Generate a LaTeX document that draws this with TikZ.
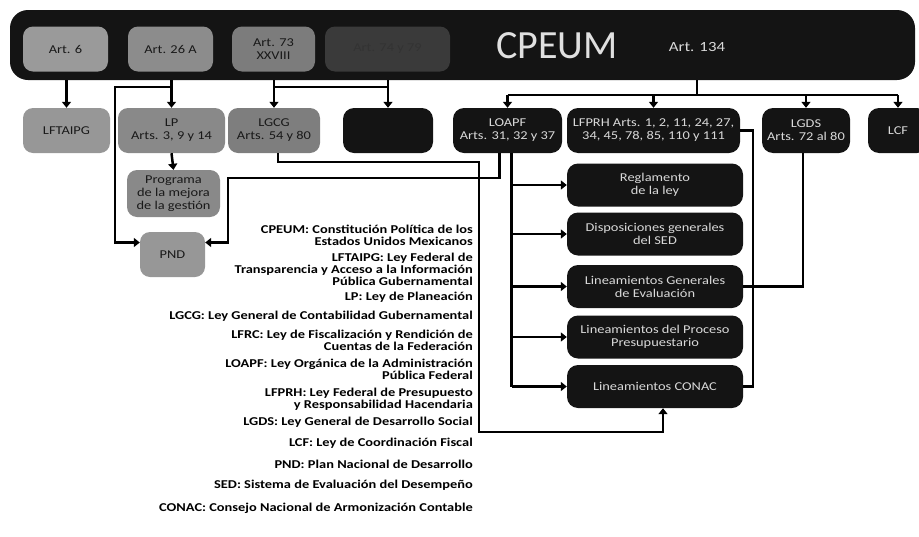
\documentclass[tikz,border=0pt]{standalone}
\usepackage{fontspec}
\setmainfont{Carlito}[FakeStretch=1.2]
\newfontfamily\titlefont{Carlito}
\usepackage{tikz}
\usetikzlibrary{arrows.meta,positioning}

\definecolor{barblack}{HTML}{141414}
\definecolor{artA}{HTML}{9A9A9A}
\definecolor{artB}{HTML}{8C8C8C}
\definecolor{artC}{HTML}{7C7C7C}
\definecolor{artD}{HTML}{3A3A3A}
\definecolor{rowA}{HTML}{979797}
\definecolor{rowB}{HTML}{898989}
\definecolor{rowC}{HTML}{7E7E7E}
\definecolor{darktext}{HTML}{D9D9D9}

\begin{document}
\begin{tikzpicture}[x=1pt,y=-1pt,
    conn/.style={line width=2.5pt, black},
    arr/.style={conn, -{Triangle[length=6pt,width=9pt]}},
    graybox/.style={rounded corners=10pt, fill=#1, minimum height=45pt, align=center,
        font=\fontsize{12}{13}\selectfont, text=black!90, inner sep=1pt},
    graybox/.default=rowB,
    darkbox/.style={rounded corners=11pt, fill=barblack, minimum height=45pt, align=center,
        font=\fontsize{12}{13}\selectfont, text=darktext, inner sep=1pt},
    legend/.style={anchor=east, align=right, font=\fontsize{12}{12}\selectfont\bfseries, inner sep=0pt}]
    \useasboundingbox (0,0) rectangle (919,536);
    % top bar
    \node[rounded corners=18pt, fill=barblack, minimum width=905pt, minimum height=70pt] (bar) at (462.5,45) {};
    \node[graybox=artA, minimum width=85pt] (art6) at (65.5,49) {Art. 6};
    \node[graybox=artB, minimum width=85pt] (art26) at (170.5,49) {Art. 26 A};
    \node[graybox=artC, minimum width=83pt] (art73) at (273.5,49) {Art. 73\\XXVIII};
    \node[graybox=artD, minimum width=125pt, text=black!80] (art74) at (387.5,49) {Art. 74 y 79};
    \node[text=white!88!black, font=\titlefont\fontsize{40}{40}\selectfont, inner sep=0pt] (cpeum) at (557,46) {CPEUM};
    \node[text=darktext, font=\fontsize{14}{14}\selectfont, inner sep=0pt] (art134) at (697,47) {Art. 134};
    % second row
    \node[graybox=rowA, minimum width=87pt] (lftaipg) at (66.5,130.5) {LFTAIPG};
    \node[graybox=rowB, minimum width=107pt] (lp) at (171.5,130.5) {LP\\Arts. 3, 9 y 14};
    \node[graybox=rowC, minimum width=92pt] (lgcg) at (274,130.5) {LGCG\\Arts. 54 y 80};
    \node[darkbox, minimum width=90pt] (lfrc) at (388,130.5) {};
    \node[darkbox, minimum width=109pt] (loapf) at (507.5,130.5) {LOAPF\\Arts. 31, 32 y 37};
    \node[darkbox, minimum width=173pt] (lfprh) at (653.5,130.5) {LFPRH Arts. 1, 2, 11, 24, 27,\\34, 45, 78, 85, 110 y 111};
    \node[darkbox, minimum width=88pt] (lgds) at (806,130.5) {LGDS\\Arts. 72 al 80};
    \node[darkbox, minimum width=60pt] (lcf) at (898,130.5) {LCF};
    \node[graybox=rowB, minimum width=93pt, minimum height=47pt] (prog) at (173.5,193.5) {Programa\\de la mejora\\de la gestión};
    \node[graybox=rowA, minimum width=65pt] (pnd) at (172.5,254.5) {PND};
    % right column
    \node[darkbox, minimum width=176pt, minimum height=43pt] (regl) at (655,185) {Reglamento\\de la ley};
    \node[darkbox, minimum width=176pt, minimum height=43pt] (disp) at (655,234) {Disposiciones generales\\del SED};
    \node[darkbox, minimum width=176pt, minimum height=43pt] (leval) at (655,286.5) {Lineamientos Generales\\de Evaluación};
    \node[darkbox, minimum width=176pt, minimum height=43pt] (lpres) at (655,337) {Lineamientos del Proceso\\Presupuestario};
    \node[darkbox, minimum width=176pt, minimum height=43pt] (lconac) at (655,386.5) {Lineamientos CONAC};
    % legend
    \foreach \y/\t in {235/{CPEUM: Constitución Política de los\\Estados Unidos Mexicanos},
        269/{LFTAIPG: Ley Federal de\\Transparencia y Acceso a la Información\\Pública Gubernamental},
        297/{LP: Ley de Planeación},
        316/{LGCG: Ley General de Contabilidad Gubernamental},
        340/{LFRC: Ley de Fiscalización y Rendición de\\Cuentas de la Federación},
        369.5/{LOAPF: Ley Orgánica de la Administración\\Pública Federal},
        399/{LFPRH: Ley Federal de Presupuesto\\y Responsabilidad Hacendaria},
        422/{LGDS: Ley General de Desarrollo Social},
        443/{LCF: Ley de Coordinación Fiscal},
        464/{PND: Plan Nacional de Desarrollo},
        485/{SED: Sistema de Evaluación del Desempeño},
        508/{CONAC: Consejo Nacional de Armonización Contable}} {
        \node[legend] (leg-\y) at (473,\y) {\t};
    }
    % connectors
    \coordinate (j26) at (115,87);
    \coordinate (j73) at (0,87);
    \coordinate (j134) at (697,95);
    \coordinate (ret) at (479,162);
    \coordinate (low) at (479,432);
    \coordinate (turn) at (228,178);
    \coordinate (rside) at (753,0);
    \coordinate (spine) at ([xshift=4pt]loapf.south);
    \draw[arr] (lftaipg.north |- bar.south) -- (lftaipg.north);
    \draw[arr] (lp.north |- bar.south) -- (lp.north);
    \draw[arr] (lp.north |- j26) -- (j26) |- ([yshift=12pt]pnd.west);
    \draw[arr] (lp.south) -- (prog.north);
    \draw[arr] (lgcg.north |- bar.south) -- (lgcg.north);
    \draw[arr] (lfrc.north |- bar.south) -- (lfrc.north);
    \draw[conn] (lgcg.north |- j73) -- (lfrc.north |- j73);
    \draw[conn] (j134 |- bar.south) -- (j134);
    \draw[conn] (loapf.north |- j134) -- (lcf.north |- j134);
    \foreach \n in {loapf,lfprh,lgds,lcf} { \draw[arr] (\n.north |- j134) -- (\n.north); }
    \draw[arr] ([xshift=4pt]lgcg.south) |- (ret) -- (low) -| ([xshift=8pt]lconac.south);
    \draw[arr] ([xshift=-8pt]loapf.south) |- (turn) |- ([yshift=12pt]pnd.east);
    \draw[conn] (spine) -- (spine |- lconac.west);
    \foreach \n in {regl,disp,leval,lpres,lconac} { \draw[arr] (spine |- \n.west) -- (\n.west); }
    \draw[conn] (lfprh.east) -| (rside |- lconac.east) -- (lconac.east);
    \draw[conn] ([xshift=-3pt]lgds.south) |- (leval.east);
\end{tikzpicture}
\end{document}
